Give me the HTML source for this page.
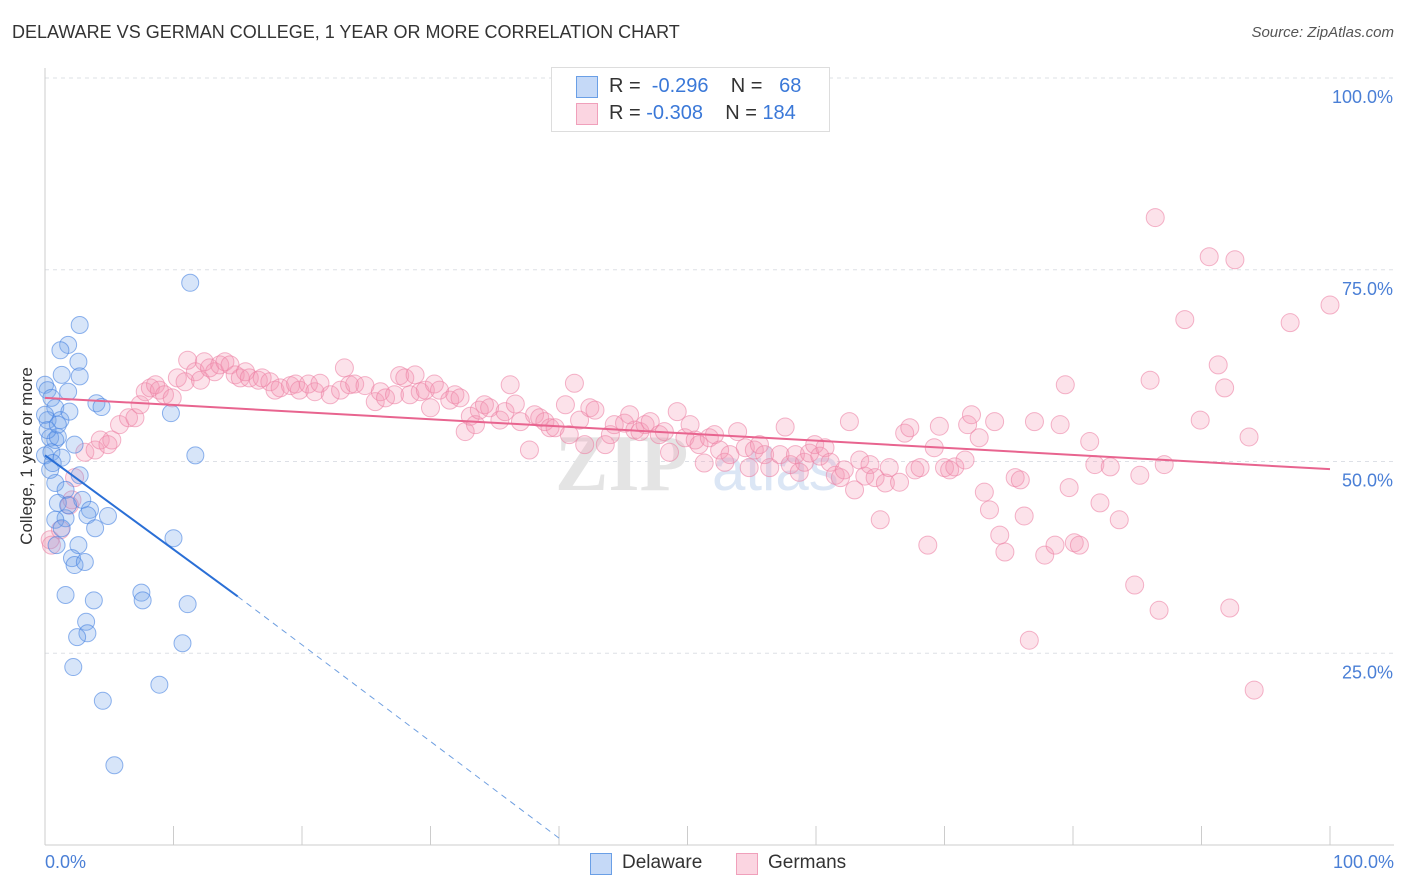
<!DOCTYPE html>
<html><head><meta charset="utf-8">
<style>
body{margin:0;background:#fff;font-family:"Liberation Sans",sans-serif;}
#wrap{position:relative;width:1406px;height:892px;overflow:hidden;}
.t{position:absolute;white-space:nowrap;}
</style></head>
<body>
<div id="wrap">
<div class="t" style="left:12px;top:22px;font-size:18px;color:#333;">DELAWARE VS GERMAN COLLEGE, 1 YEAR OR MORE CORRELATION CHART</div>
<div class="t" style="right:12px;top:24px;font-size:15px;color:#555;font-style:italic;">Source: ZipAtlas.com</div>
<svg id="svg" width="1406" height="892" style="position:absolute;left:0;top:0"></svg>
</div>
<script>
const blueX=[0,0.2,0.5,0.8,0.2,0.4,0.8,1.0,0,0.5,1.2,1.9,1.3,1.8,2.7,1.8,1.2,2.6,2.7,4.0,4.4,2.3,1.3,0.8,1.6,2.7,1.0,1.6,1.8,2.9,3.5,3.3,3.9,4.9,2.6,0.9,2.1,2.3,3.1,1.6,3.8,7.5,7.6,11.1,3.2,3.3,2.5,10.7,2.2,8.9,4.5,5.4,11.3,11.7,10.0,9.8,0.4,0.8,1.3,0.2,0.6,0,1.0];
const blueY=[60.0,59.3,58.3,57.0,55.4,53.1,52.8,53.2,50.8,51.2,55.4,56.5,61.3,59.1,67.8,65.2,64.5,63.0,61.1,57.6,57.1,52.2,50.5,47.2,46.3,48.2,44.6,42.6,44.3,45.0,43.7,43.0,41.3,42.9,39.1,39.1,37.4,36.5,36.9,32.6,31.9,32.9,31.9,31.4,29.1,27.6,27.1,26.3,23.2,20.9,18.8,10.4,73.3,50.8,40.0,56.3,48.9,42.4,41.3,54.1,49.8,56.1,54.8];
const pinkX=[0.4,0.5,1.2,1.9,2.1,2.3,3.1,3.9,4.3,4.9,5.2,5.8,6.5,7.0,7.4,7.8,8.2,8.6,8.9,9.3,9.9,10.3,10.9,11.1,11.7,12.1,12.4,12.8,13.2,13.6,14.0,14.4,14.8,15.2,15.6,15.9,16.6,16.9,17.5,17.9,18.3,19.1,19.5,19.8,20.5,21.0,21.4,22.2,23.0,23.3,23.7,24.1,24.9,25.7,26.1,26.5,27.2,27.6,28.0,28.4,28.8,29.2,29.6,30.0,30.3,30.7,31.5,31.9,32.3,32.7,33.1,33.5,33.8,34.2,34.6,35.4,35.8,36.2,36.6,37.0,37.7,38.1,38.5,38.9,39.3,39.7,40.5,40.8,41.2,41.6,42.0,42.4,42.8,43.6,44.0,44.3,45.1,45.5,45.9,46.3,46.7,47.1,47.8,48.2,48.6,49.2,49.8,50.2,50.6,50.9,51.3,51.7,52.1,52.5,52.9,53.3,53.9,54.5,54.8,55.2,55.6,56.0,56.4,57.2,57.6,58.0,58.4,58.7,59.1,59.5,59.9,60.3,60.7,61.1,61.5,61.9,62.2,62.6,63.0,63.4,63.8,64.2,64.6,65.0,65.4,65.7,66.5,66.9,67.3,67.7,68.1,68.7,69.2,69.6,70.0,70.4,70.8,71.6,71.8,72.1,72.7,73.1,73.5,73.9,74.3,74.7,75.5,75.9,76.2,76.6,77.0,77.8,78.6,79.0,79.4,79.7,80.1,80.5,81.3,81.7,82.1,82.9,83.6,84.8,85.2,86.0,86.4,86.7,87.1,88.7,89.9,90.6,91.3,91.8,92.2,92.6,93.7,94.1,96.9,100.0];
const pinkY=[39.8,39.1,41.1,44.3,45.0,47.9,51.2,51.5,52.8,52.2,52.8,54.8,55.7,55.7,57.4,59.1,59.6,60.0,59.3,58.7,58.3,60.9,60.4,63.2,61.7,60.6,63.0,62.2,61.7,62.6,63.0,62.6,61.3,60.9,61.7,60.9,60.6,60.9,60.4,59.3,59.6,59.9,60.1,59.3,60.1,59.1,60.2,58.7,59.3,62.2,60.0,60.1,59.9,57.8,59.1,58.3,58.7,61.2,60.9,58.7,61.3,59.1,59.3,57.0,60.1,59.3,58.0,58.7,58.3,53.9,55.9,54.8,56.7,57.4,57.0,55.4,56.5,60.0,57.5,55.2,51.5,56.1,55.7,55.2,54.4,54.4,57.4,53.5,60.2,55.4,52.2,57.0,56.7,52.2,53.5,54.8,55.0,56.1,54.1,53.9,54.8,55.2,53.5,53.9,51.2,56.5,53.1,54.8,52.8,52.2,49.8,53.1,53.5,51.5,49.9,50.9,53.9,51.8,49.2,51.5,52.2,50.9,49.2,50.9,54.5,49.6,50.9,48.6,49.9,51.1,52.2,50.7,51.8,49.9,48.2,47.9,48.9,55.2,46.3,50.2,48.1,49.6,47.9,42.4,47.2,49.2,47.3,53.7,54.4,48.9,49.2,39.1,51.8,54.6,49.2,48.9,49.3,50.2,54.8,56.1,53.1,46.0,43.7,55.2,40.4,38.2,47.9,47.6,42.9,26.7,55.2,37.8,39.1,54.8,60.0,46.6,39.4,39.1,52.6,49.6,44.6,49.3,42.4,33.9,48.2,60.6,81.8,30.6,49.6,68.5,55.4,76.7,62.6,59.6,30.9,76.3,53.2,20.2,68.1,70.4];
const blueTrendX=[0,15,40];
const blueTrendY=[50.8,32.4,0.9];
const pinkTrendX=[0,100];
const pinkTrendY=[58.3,49.0];
const yTicks=[25,50,75,100];
const yTickLabels=["25.0%","50.0%","75.0%","100.0%"];

const NS="http://www.w3.org/2000/svg";
const svg=document.getElementById('svg');
const X=v=>45+v*12.85;
const Y=v=>845-v*7.67;
function mk(tag,attrs){const e=document.createElementNS(NS,tag);for(const k in attrs)e.setAttribute(k,attrs[k]);svg.appendChild(e);return e;}

// gridlines
yTicks.forEach((t,i)=>{
  const g=mk('line',{x1:45,x2:1394,y1:Y(t),y2:Y(t),stroke:'#dde0e6','stroke-dasharray':'4,4'});
  
  
  const tx=mk('text',{x:1393,y:Y(t)+25,'text-anchor':'end','font-size':18,fill:'#4a7fd6','font-family':'Liberation Sans, sans-serif'});
  tx.textContent=yTickLabels[i];
  
  
});
// axes
const ax=mk('line',{x1:45,x2:1394,y1:845,y2:845,stroke:'#ccc'});


const ay=mk('line',{x1:45,x2:45,y1:68,y2:845,stroke:'#ccc'});


for(let i=0;i<=10;i++){
  const tk=mk('line',{x1:X(i*10),x2:X(i*10),y1:826,y2:845,stroke:'#ccc'});
  
  
}
// watermark
const wm=mk('text',{x:555,y:490,'font-size':80,fill:'#e4e4e4','font-family':'Liberation Serif, serif','font-weight':'bold'});
wm.textContent='ZIP';


const wm2=mk('text',{x:712,y:490,'font-size':60,fill:'#dbe6f5','font-family':'Liberation Sans, sans-serif'});
wm2.textContent='atlas';



// points
pinkX.forEach((x,i)=>{
  const c=mk('circle',{cx:X(x),cy:Y(pinkY[i]),r:9,fill:'rgba(244,150,180,0.28)',stroke:'rgba(236,130,165,0.6)','stroke-width':1});
  
  
});
blueX.forEach((x,i)=>{
  const c=mk('circle',{cx:X(x),cy:Y(blueY[i]),r:8.5,fill:'rgba(110,160,235,0.28)',stroke:'rgba(70,130,225,0.6)','stroke-width':1});
  
  
});
// trends
const pt=mk('line',{x1:X(pinkTrendX[0]),y1:Y(pinkTrendY[0]),x2:X(pinkTrendX[1]),y2:Y(pinkTrendY[1]),stroke:'#e8648f','stroke-width':2});


const bt=mk('line',{x1:X(blueTrendX[0]),y1:Y(blueTrendY[0]),x2:X(blueTrendX[1]),y2:Y(blueTrendY[1]),stroke:'#2a6fd6','stroke-width':2});


const bd=mk('line',{x1:X(blueTrendX[1]),y1:Y(blueTrendY[1]),x2:X(blueTrendX[2]),y2:Y(blueTrendY[2]),stroke:'#6f9fe0','stroke-width':1,'stroke-dasharray':'6,5'});


</script>
<div class="t" style="left:45px;top:852px;font-size:18px;color:#4a7fd6;">0.0%</div>
<div class="t" style="right:12px;top:852px;font-size:18px;color:#4a7fd6;">100.0%</div>
<div class="t" style="left:-73px;top:446px;font-size:17px;color:#333;transform:rotate(-90deg);transform-origin:center;width:200px;text-align:center;">College, 1 year or more</div>
<div style="position:absolute;left:551px;top:67px;width:277px;height:63px;border:1px solid #ddd;background:#fff;font-size:20px;">
  <div style="position:absolute;left:24px;top:8px;width:20px;height:20px;background:rgba(110,160,235,0.4);border:1px solid #6a9fe6;"></div>
  <div class="t" style="left:57px;top:7px;color:#333;">R = <span style="color:#3a78d8">&nbsp;-0.296</span>&nbsp;&nbsp;&nbsp;&nbsp;N = <span style="color:#3a78d8">&nbsp;&nbsp;68</span></div>
  <div style="position:absolute;left:24px;top:35px;width:20px;height:20px;background:rgba(244,150,180,0.4);border:1px solid #f0a0bb;"></div>
  <div class="t" style="left:57px;top:34px;color:#333;">R = <span style="color:#3a78d8">-0.308</span>&nbsp;&nbsp;&nbsp;&nbsp;N = <span style="color:#3a78d8">184</span></div>
</div>
<div style="position:absolute;left:590px;top:852px;font-size:19px;color:#333;">
  <div style="position:absolute;left:0;top:1px;width:20px;height:20px;background:rgba(110,160,235,0.4);border:1px solid #6a9fe6;"></div>
  <div class="t" style="left:32px;top:0;">Delaware</div>
  <div style="position:absolute;left:146px;top:1px;width:20px;height:20px;background:rgba(244,150,180,0.4);border:1px solid #f0a0bb;"></div>
  <div class="t" style="left:178px;top:0;">Germans</div>
</div>
</body></html>
